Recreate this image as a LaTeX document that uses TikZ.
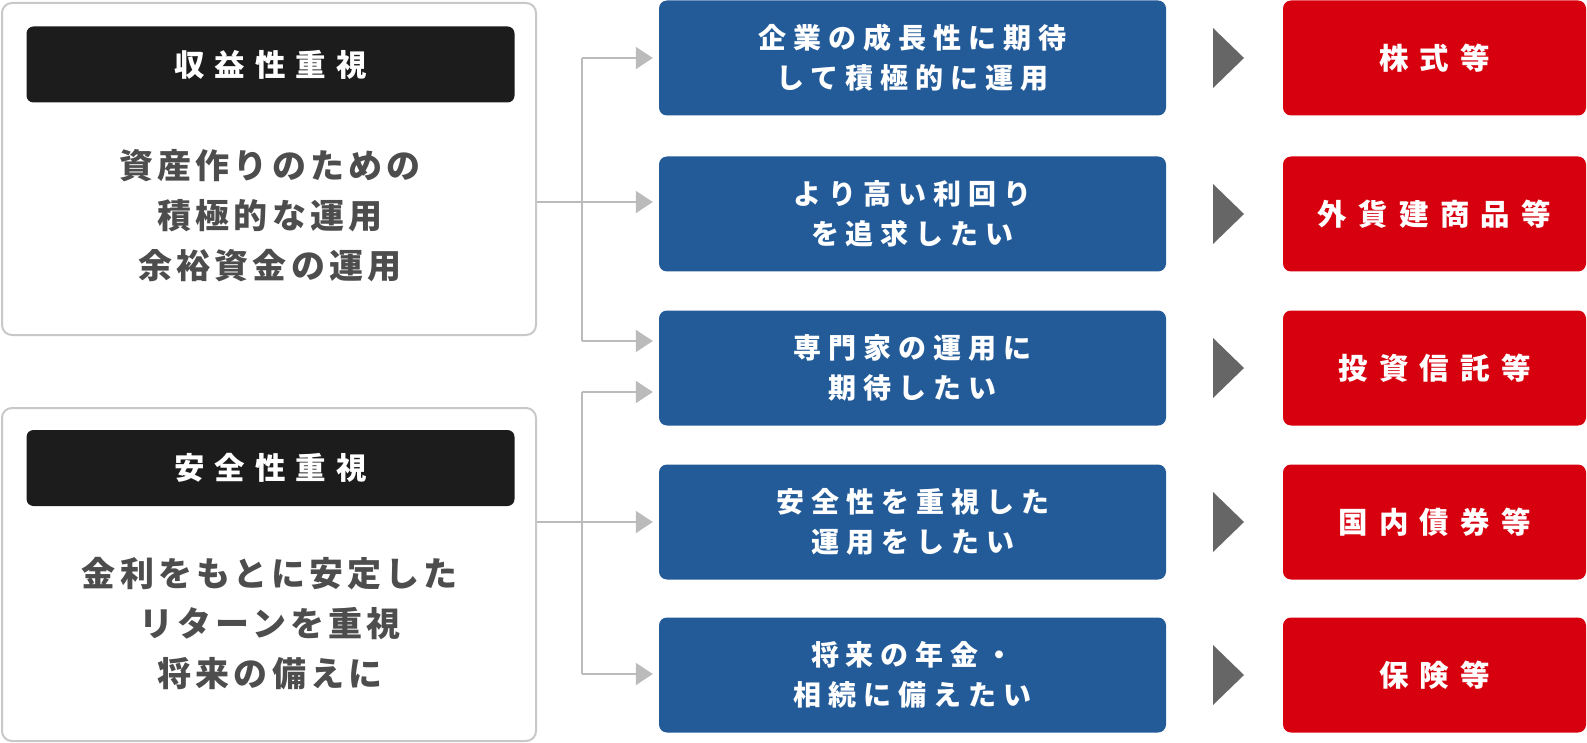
\documentclass[tikz,border=0pt]{standalone}
\usepackage{fontspec}
\setmainfont{Noto Sans CJK JP}
\newfontfamily\hdfont[LetterSpace=33]{Noto Sans CJK JP}
\newfontfamily\lefont[LetterSpace=12]{Noto Sans CJK JP}
\newfontfamily\blfont[LetterSpace=25]{Noto Sans CJK JP}
\newfontfamily\rdfont[LetterSpace=38]{Noto Sans CJK JP}
\usetikzlibrary{arrows.meta}
\definecolor{bluebox}{HTML}{235B99}
\definecolor{redbox}{HTML}{D7000F}
\definecolor{hdbox}{HTML}{1C1C1C}
\definecolor{greytext}{HTML}{4D4D4D}
\definecolor{framegrey}{HTML}{C8C8C8}
\definecolor{linegrey}{HTML}{BBBBBB}
\definecolor{trigrey}{HTML}{666666}
\tikzset{
  outerbox/.style={draw=framegrey, line width=2pt, rounded corners=10pt, inner sep=0pt},
  headbox/.style={fill=hdbox, rounded corners=7pt, inner sep=0pt, minimum width=488pt, minimum height=76pt,
    text=white, font=\hdfont\bfseries\fontsize{30.5}{36}\selectfont},
  lefttext/.style={align=center, text=greytext, font=\lefont\bfseries\fontsize{34}{50}\selectfont, inner sep=0pt},
  bluenode/.style={fill=bluebox, rounded corners=8pt, inner sep=0pt, minimum width=507pt, minimum height=115pt,
    text=white, align=center, font=\blfont\bfseries\fontsize{28}{40}\selectfont},
  rednode/.style={fill=redbox, rounded corners=8pt, inner sep=0pt, minimum width=303pt, minimum height=115pt,
    text=white, align=center, font=\rdfont\bfseries\fontsize{29.5}{36}\selectfont},
  conn/.style={draw=linegrey, line width=2pt},
  arr/.style={draw=linegrey, line width=2pt, -{Triangle[length=17pt,width=22pt]}, shorten >=6pt},
  pointer/.style={fill=trigrey}
}
\begin{document}
\begin{tikzpicture}[x=1pt,y=-1pt]
\useasboundingbox (0,0) rectangle (1587,743);
% left boxes
\node[outerbox, minimum width=534pt, minimum height=332pt] (L1) at (269,169) {};
\node[outerbox, minimum width=534pt, minimum height=333pt] (L2) at (269,574.5) {};
\node[headbox] (H1) at (270.5,64.5) {収益性重視};
\node[headbox] (H2) at (270.5,468) {安全性重視};
\node[lefttext] (T1) at (270,216) {資産作りのための\\積極的な運用\\余裕資金の運用};
\node[lefttext] (T2) at (270,624) {金利をもとに安定した\\リターンを重視\\将来の備えに};
% blue boxes
\node[bluenode] (B1) at (912.5,58) {企業の成長性に期待\\して積極的に運用};
\node[bluenode] (B2) at (912.5,214) {より高い利回り\\を追求したい};
\node[bluenode] (B3) at (912.5,368) {専門家の運用に\\期待したい};
\node[bluenode] (B4) at (912.5,522) {安全性を重視した\\運用をしたい};
\node[bluenode] (B5) at (912.5,675) {将来の年金・\\相続に備えたい};
% red boxes
\node[rednode] (R1) at (1434.5,58) {株式等};
\node[rednode] (R2) at (1434.5,214) {外貨建商品等};
\node[rednode] (R3) at (1434.5,368) {投資信託等};
\node[rednode] (R4) at (1434.5,522) {国内債券等};
\node[rednode] (R5) at (1434.5,675) {保険等};
% pointers
\foreach \c in {58,214,368,522,675}{
  \fill[pointer] (1213,\c-30) -- (1244,\c) -- (1213,\c+30) -- cycle;
}
% connectors, top group
\coordinate (j1) at (582,202);
\coordinate (a1) at (582,58);
\coordinate (a3) at (582,341);
\draw[conn] (L1.east |- j1) -- (j1);
\draw[conn] (a1) -- (a3);
\draw[arr] (a1) -- (B1.west |- a1);
\draw[arr] (j1) -- (B2.west |- j1);
\draw[arr] (a3) -- (B3.west |- a3);
% connectors, bottom group
\coordinate (j2) at (582,522);
\coordinate (b3) at (582,392);
\coordinate (b5) at (582,674);
\draw[conn] (L2.east |- j2) -- (j2);
\draw[conn] (b3) -- (b5);
\draw[arr] (b3) -- (B3.west |- b3);
\draw[arr] (j2) -- (B4.west |- j2);
\draw[arr] (b5) -- (B5.west |- b5);
\end{tikzpicture}
\end{document}
